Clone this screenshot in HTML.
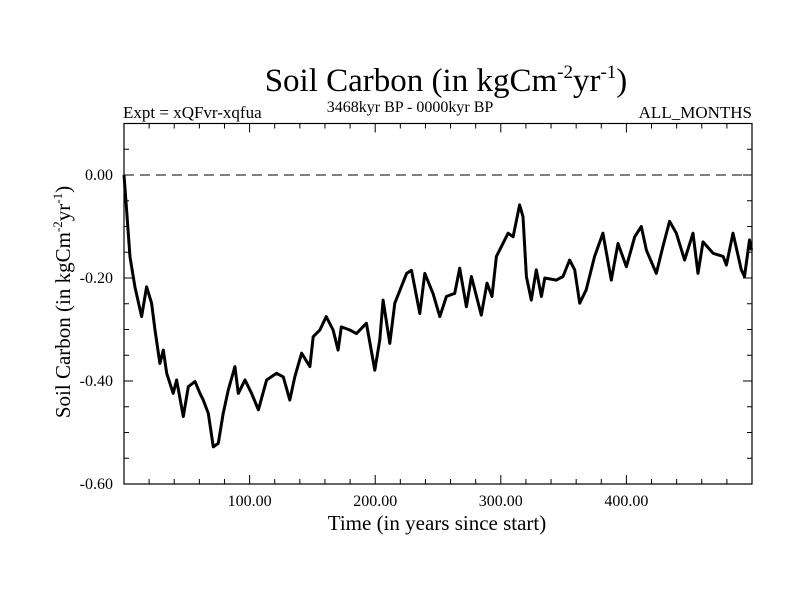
<!DOCTYPE html>
<html><head><meta charset="utf-8"><style>
body{margin:0;background:#fff}
svg{display:block;font-family:"Liberation Serif",serif}
</style></head><body>
<svg id="chart" width="800" height="600" viewBox="0 0 800 600">
<rect width="800" height="600" fill="#fff"/>
<text x="446" y="91" font-size="33" text-anchor="middle">Soil Carbon (in kgCm<tspan font-size="19" dy="-13">-2</tspan><tspan dy="13">yr</tspan><tspan font-size="19" dy="-13">-1</tspan><tspan dy="13">)</tspan></text>
<text x="410" y="112" font-size="16" text-anchor="middle">3468kyr BP - 0000kyr BP</text>
<text x="123" y="118" font-size="17">Expt = xQFvr-xqfua</text>
<text x="752" y="118" font-size="17" text-anchor="end">ALL_MONTHS</text>
<text x="437" y="530" font-size="21" text-anchor="middle">Time (in years since start)</text>
<text transform="translate(70,302) rotate(-90)" font-size="21" text-anchor="middle">Soil Carbon (in kgCm<tspan font-size="13" dy="-8">-2</tspan><tspan dy="8">yr</tspan><tspan font-size="13" dy="-8">-1</tspan><tspan dy="8">)</tspan></text>
<g id="axes"></g>
<g id="series"></g>
</svg>
<script>
const years=[0,2.1,4.8,8.7,14,18,22,24.7,28.6,31.3,34,39.2,41.9,47.2,51.2,56.5,60.5,63.1,67.1,71.1,75.1,79,83,88.3,91,96.3,101.6,107,113.5,121.5,126.8,132,136,141.4,148,150.6,156,161,166.5,170.5,173,179.8,185,193,199.7,203.7,206.3,211.6,215.6,225,228.9,235.5,239.5,246,251.4,256.7,263.3,267.3,272.6,276.6,284.5,289,293,296.5,300.5,305.8,309.8,315,317.7,320.4,324.3,328.3,332.3,335,344.3,349.5,354.8,358.8,362.8,368,374.7,381.3,388,393.3,400,406.6,411.9,415.9,423.8,429.1,434.4,439.7,446.3,453,457,461,469,477,479.6,484.9,491.5,494,498,499.6];
const values=[0,-0.068,-0.159,-0.217,-0.275,-0.217,-0.249,-0.301,-0.366,-0.34,-0.385,-0.424,-0.398,-0.469,-0.411,-0.401,-0.424,-0.437,-0.463,-0.528,-0.521,-0.463,-0.418,-0.372,-0.424,-0.398,-0.424,-0.456,-0.398,-0.385,-0.392,-0.437,-0.392,-0.346,-0.372,-0.314,-0.301,-0.275,-0.301,-0.34,-0.295,-0.301,-0.308,-0.288,-0.379,-0.32,-0.243,-0.327,-0.249,-0.191,-0.185,-0.269,-0.191,-0.23,-0.275,-0.236,-0.23,-0.181,-0.256,-0.197,-0.272,-0.21,-0.236,-0.158,-0.139,-0.113,-0.12,-0.058,-0.081,-0.197,-0.243,-0.184,-0.236,-0.2,-0.204,-0.197,-0.165,-0.184,-0.249,-0.223,-0.158,-0.113,-0.204,-0.133,-0.178,-0.12,-0.1,-0.146,-0.191,-0.139,-0.09,-0.113,-0.165,-0.113,-0.191,-0.13,-0.152,-0.158,-0.175,-0.113,-0.184,-0.197,-0.126,-0.146];
const xTicks=[100,200,300,400];
const xTickLabels=["100.00","200.00","300.00","400.00"];
const yTicks=[0,-0.2,-0.4,-0.6];
const yTickLabels=["0.00","-0.20","-0.40","-0.60"];
const X0=124,X1=752,Y0=484,Y1=123.5,xMin=0,xMax=500,yMin=-0.6,yMax=0.1;
const sx=v=>X0+(v-xMin)/(xMax-xMin)*(X1-X0);
const sy=v=>Y0-(v-yMin)/(yMax-yMin)*(Y0-Y1);
const NS="http://www.w3.org/2000/svg";
const axes=document.getElementById('axes'),series=document.getElementById('series');
function mk(t,a,p){const e=document.createElementNS(NS,t);for(const k in a)e.setAttribute(k,a[k]);p.appendChild(e);return e;}
const frame=mk('rect',{x:X0,y:Y1,width:X1-X0,height:Y0-Y1,fill:'none',stroke:'#000','stroke-width':1.2},axes);


for(let v=20;v<xMax;v+=20){const maj=v%100===0,L=maj?9:5,x=sx(v);
 const t1=mk('line',{x1:x,x2:x,y1:Y0,y2:Y0-L,stroke:'#000'},axes);
 
 
 const t2=mk('line',{x1:x,x2:x,y1:Y1,y2:Y1+L,stroke:'#000'},axes);
 
 }
xTicks.forEach((v,i)=>{const t=mk('text',{x:sx(v),y:Y0+22,'font-size':16,'text-anchor':'middle'},axes);t.textContent=xTickLabels[i];
 
 });
for(let k=-12;k<=2;k++){const v=k*0.05,maj=k%4===0,L=maj?9:5,y=sy(v);
 const t1=mk('line',{x1:X0,x2:X0+L,y1:y,y2:y,stroke:'#000'},axes);
 
 
 const t2=mk('line',{x1:X1,x2:X1-L,y1:y,y2:y,stroke:'#000'},axes);
 
 }
yTicks.forEach((v,i)=>{const t=mk('text',{x:X0-11,y:sy(v)+5,'font-size':16,'text-anchor':'end'},axes);t.textContent=yTickLabels[i];
 
 });
const zl=mk('line',{x1:X0,x2:X1,y1:sy(0),y2:sy(0),stroke:'#000','stroke-dasharray':'10,6'},axes);


const d=years.map((y,i)=>(i?'L':'M')+sx(y).toFixed(1)+','+sy(values[i]).toFixed(1)).join('');
const p=mk('path',{d:d,fill:'none',stroke:'#000','stroke-width':3,'stroke-linejoin':'round'},series);


</script>
</body></html>
